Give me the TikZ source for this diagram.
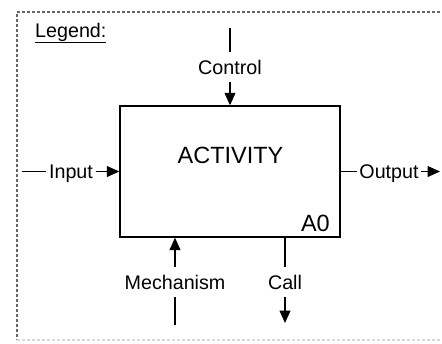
\documentclass[tikz,border=0pt]{standalone}
\usepackage{fontspec}
\setmainfont{Liberation Sans}
\usetikzlibrary{arrows.meta}
\begin{document}
\begin{tikzpicture}[x=1pt,y=1pt,
  flow/.style={draw=black, line width=1.1pt},
  tip/.style={flow, -{Triangle[length=12.5pt,width=11pt]}},
  lbl/.style={font=\fontsize{19.7}{22}\selectfont, inner xsep=2.5pt, inner ysep=7.5pt,
              text height=14pt, text depth=0pt},
  big/.style={font=\fontsize{23.5}{26}\selectfont, inner sep=0pt},
  frame/.style={line width=1.6pt, dash pattern=on 3pt off 2pt}]
\useasboundingbox (0,0) rectangle (442,-343);
\fill[white] (0,0) rectangle (442,-343);

% legend frame, open to the right
\draw[frame, black!60] (450,-12) -- (17,-12) -- (17,-340);
\draw[frame, black!15] (17,-340) -- (450,-340);

\node[font=\fontsize{19.7}{22}\selectfont, inner sep=0pt, anchor=base west] (legend) at (35,-37) {\underline{Legend:}};

% the activity box
\node[draw=black, line width=1.4pt, minimum width=220pt, minimum height=131pt, inner sep=0pt] (act) at (230,-171.5) {};
\node[big, anchor=base] (title) at (230.5,-163) {ACTIVITY};
\node[big, anchor=base east] (num) at (330,-231) {A0};

% labels
\node[lbl] (ctrl) at (230,-67) {Control};
\node[lbl] (inp) at (71,-171.5) {Input};
\node[lbl] (outp) at (389,-171.5) {Output};
\node[lbl] (mech) at (175,-282) {Mechanism};
\node[lbl] (call) at (285,-282) {Call};

% free ends
\coordinate (ctop) at (230,-28);
\coordinate (inl) at (22,-171.5);
\coordinate (outr) at (440,-171.5);
\coordinate (mbot) at (175,-325);
\coordinate (cbot) at (285,-323);

% control
\draw[flow] (ctop) -- (ctrl.north);
\draw[tip] (ctrl.south) -- (act.north);
% input
\draw[flow] (inl) -- (inp.west);
\draw[tip] (inp.east) -- (act.west);
% output
\draw[flow] (act.east) -- (outp.west);
\draw[tip] (outp.east) -- (outr);
% mechanism
\draw[flow] (mbot) -- (mech.south);
\draw[tip] (mech.north) -- (mech.north |- act.south);
% call
\draw[flow] (call.north |- act.south) -- (call.north);
\draw[tip] (call.south) -- (cbot);
\end{tikzpicture}
\end{document}
